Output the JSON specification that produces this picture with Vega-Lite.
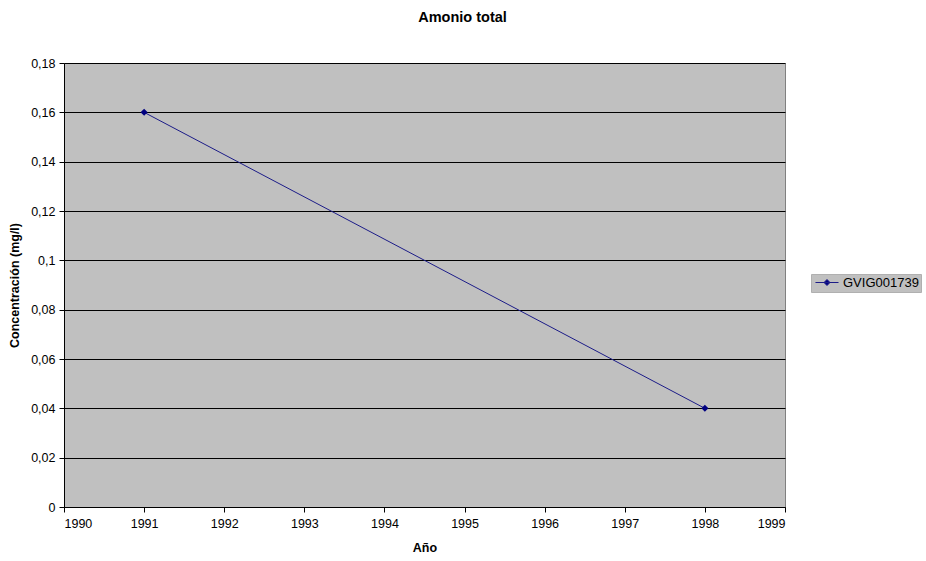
{
  "$schema": "https://vega.github.io/schema/vega-lite/v6.json",
  "width": 721,
  "height": 444,
  "autosize": {"type": "none"},
  "padding": {"left": 64, "top": 63, "right": 141, "bottom": 54},
  "background": "white",
  "title": {
    "text": "Amonio total",
    "font": "Liberation Sans",
    "fontSize": 14.5,
    "fontWeight": "bold",
    "color": "#000000",
    "anchor": "middle",
    "dx": 38,
    "offset": 32
  },
  "data": {
    "values": [
      {"year": 1991, "value": 0.16, "series": "GVIG001739"},
      {"year": 1998, "value": 0.04, "series": "GVIG001739"}
    ]
  },
  "config": {
    "view": {"fill": "#c0c0c0", "stroke": "#808080", "strokeWidth": 1},
    "font": "Liberation Sans",
    "axis": {
      "labelFont": "Liberation Sans",
      "labelFontSize": 12.5,
      "labelColor": "#000000",
      "titleFont": "Liberation Sans",
      "titleFontSize": 12.5,
      "titleFontWeight": "bold",
      "titleColor": "#000000",
      "domainColor": "#000000",
      "tickColor": "#000000",
      "tickSize": 5
    }
  },
  "layer": [
    {
      "mark": {"type": "line", "strokeWidth": 1, "color": "#1c1c88"},
      "encoding": {
        "x": {
          "field": "year",
          "type": "quantitative",
          "scale": {"domain": [1990, 1999], "nice": false, "zero": false},
          "axis": {
            "title": "Año",
            "values": [1990, 1991, 1992, 1993, 1994, 1995, 1996, 1997, 1998, 1999],
            "format": "d",
            "grid": false,
            "labelPadding": 5,
            "titlePadding": 12
          }
        },
        "y": {
          "field": "value",
          "type": "quantitative",
          "scale": {"domain": [0, 0.18], "nice": false},
          "axis": {
            "title": "Concentración (mg/l)",
            "values": [0, 0.02, 0.04, 0.06, 0.08, 0.1, 0.12, 0.14, 0.16, 0.18],
            "labelExpr": "replace(format(datum.value, '.2~f'), '.', ',')",
            "grid": true,
            "gridColor": "#000000",
            "gridWidth": 1,
            "gridOpacity": 1,
            "labelPadding": 4,
            "titlePadding": 9
          }
        },
        "color": {
          "field": "series",
          "type": "nominal",
          "scale": {"range": ["#1c1c88"]},
          "legend": {
            "title": null,
            "orient": "none",
            "legendX": 747,
            "legendY": 211,
            "fillColor": "#c0c0c0",
            "strokeColor": "#b0b0b0",
            "padding": 2,
            "symbolType": "M-0.67,0H3.17M1.25,-0.5L1.75,0L1.25,0.5L0.75,0Z",
            "symbolSize": 144,
            "symbolStrokeWidth": 1,
            "symbolFillColor": "#000080",
            "symbolStrokeColor": "#000080",
            "labelFont": "Liberation Sans",
            "labelFontSize": 13,
            "labelColor": "#000000",
            "labelOffset": 17
          }
        }
      }
    },
    {
      "mark": {"type": "point", "shape": "diamond", "filled": true, "size": 50, "opacity": 1, "color": "#000080"},
      "encoding": {
        "x": {"field": "year", "type": "quantitative"},
        "y": {"field": "value", "type": "quantitative"}
      }
    }
  ]
}
